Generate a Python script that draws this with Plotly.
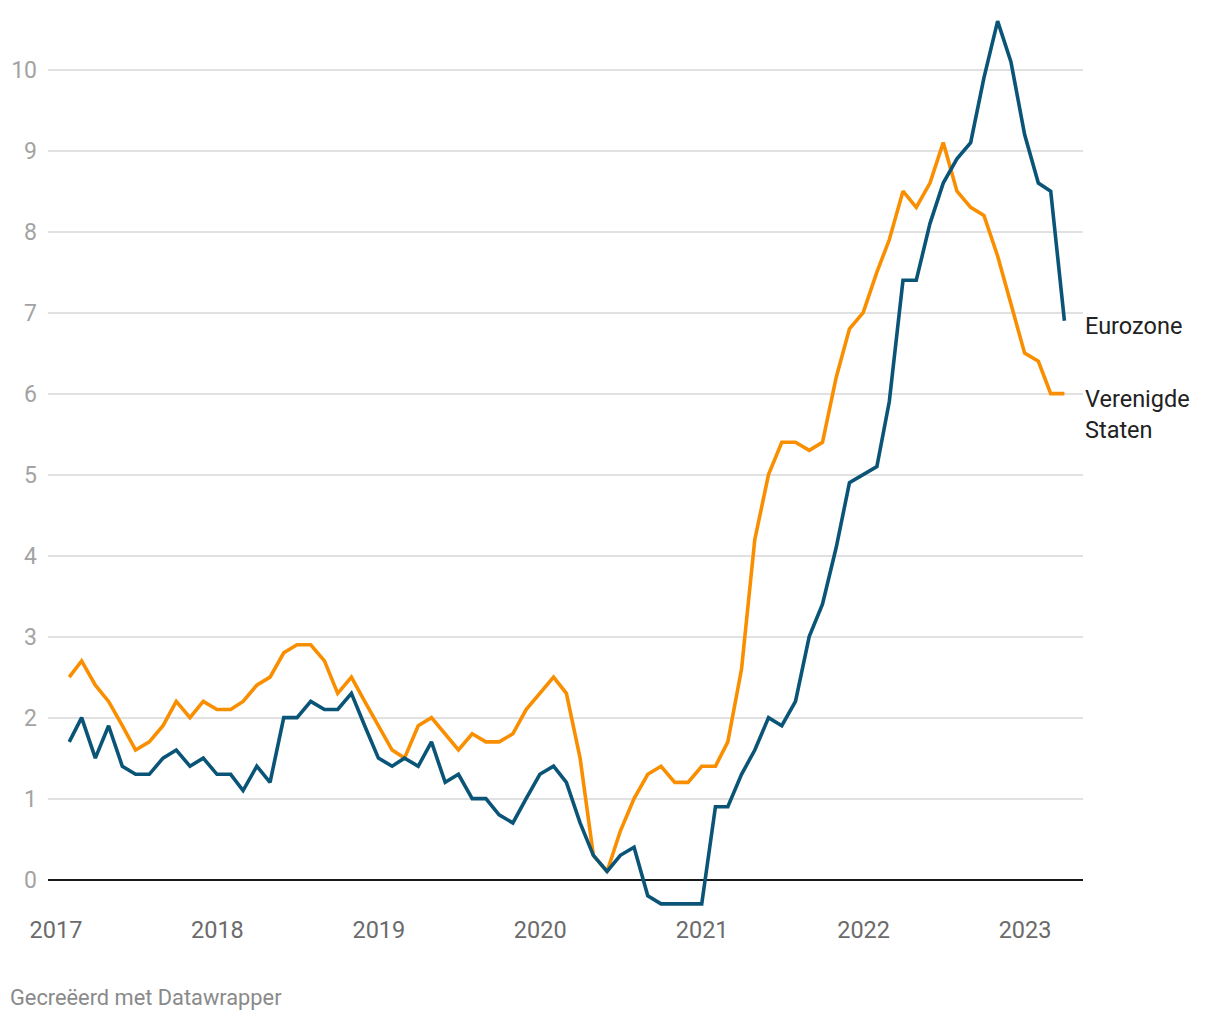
import plotly.graph_objects as go
import pandas as pd

# Monthly inflation (%), Jan 2017 - Mar 2023
start_month = "2017-01-01"
n_months = 75

eurozone = [
    1.7, 2.0, 1.5, 1.9, 1.4, 1.3, 1.3, 1.5, 1.6, 1.4, 1.5, 1.3,   # 2017
    1.3, 1.1, 1.4, 1.2, 2.0, 2.0, 2.2, 2.1, 2.1, 2.3, 1.9, 1.5,   # 2018
    1.4, 1.5, 1.4, 1.7, 1.2, 1.3, 1.0, 1.0, 0.8, 0.7, 1.0, 1.3,   # 2019
    1.4, 1.2, 0.7, 0.3, 0.1, 0.3, 0.4, -0.2, -0.3, -0.3, -0.3, -0.3,  # 2020
    0.9, 0.9, 1.3, 1.6, 2.0, 1.9, 2.2, 3.0, 3.4, 4.1, 4.9, 5.0,   # 2021
    5.1, 5.9, 7.4, 7.4, 8.1, 8.6, 8.9, 9.1, 9.9, 10.6, 10.1, 9.2,  # 2022
    8.6, 8.5, 6.9,                                                # 2023
]

verenigde_staten = [
    2.5, 2.7, 2.4, 2.2, 1.9, 1.6, 1.7, 1.9, 2.2, 2.0, 2.2, 2.1,   # 2017
    2.1, 2.2, 2.4, 2.5, 2.8, 2.9, 2.9, 2.7, 2.3, 2.5, 2.2, 1.9,   # 2018
    1.6, 1.5, 1.9, 2.0, 1.8, 1.6, 1.8, 1.7, 1.7, 1.8, 2.1, 2.3,   # 2019
    2.5, 2.3, 1.5, 0.3, 0.1, 0.6, 1.0, 1.3, 1.4, 1.2, 1.2, 1.4,   # 2020
    1.4, 1.7, 2.6, 4.2, 5.0, 5.4, 5.4, 5.3, 5.4, 6.2, 6.8, 7.0,   # 2021
    7.5, 7.9, 8.5, 8.3, 8.6, 9.1, 8.5, 8.3, 8.2, 7.7, 7.1, 6.5,   # 2022
    6.4, 6.0, 6.0,                                                # 2023
]

series_labels = ["Eurozone", "Verenigde<br>Staten"]
y_ticks = [0, 1, 2, 3, 4, 5, 6, 7, 8, 9, 10]
footer_text = "Gecreëerd met Datawrapper"

dates = pd.date_range(start=start_month, periods=n_months, freq="MS") + pd.offsets.MonthEnd(0)

BLUE = "#0a5577"
ORANGE = "#f98f00"
FONT = "Roboto"

# page has an 8px body margin; plot area placed accordingly
W, H = 1220, 1020
PL, PR, PT, PB = 40, 1075, 5, 904

fig = go.Figure()
fig.add_trace(go.Scatter(x=dates, y=verenigde_staten, mode="lines",
                         line=dict(color=ORANGE, width=3.6), name="Verenigde Staten",
                         showlegend=False))
fig.add_trace(go.Scatter(x=dates, y=eurozone, mode="lines",
                         line=dict(color=BLUE, width=3.6), name="Eurozone",
                         showlegend=False))

fig.add_annotation(x=1, xref="paper", xanchor="left", xshift=0,
                   y=eurozone[-1], yref="y", yanchor="middle", yshift=-5,
                   text=series_labels[0], showarrow=False, align="left",
                   font=dict(family=FONT, size=23.5, color="#222222"))
fig.add_annotation(x=1, xref="paper", xanchor="left", xshift=0,
                   y=verenigde_staten[-1], yref="y", yanchor="top", yshift=11,
                   text="<span style='line-height:1.2'>" + series_labels[1] + "</span>",
                   showarrow=False, align="left",
                   font=dict(family=FONT, size=23.5, color="#222222"))

fig.add_annotation(x=(0 - PL) / (PR - PL), xref="paper", xanchor="left",
                   y=(PB - 989) / (PB - PT), yref="paper", yanchor="middle",
                   showarrow=False, text=footer_text,
                   font=dict(family=FONT, size=21.8, color="#8a8a8a"))

fig.update_layout(
    width=W, height=H,
    margin=dict(l=PL, r=W - PR, t=PT, b=H - PB, autoexpand=False),
    paper_bgcolor="white", plot_bgcolor="white",
    font=dict(family=FONT),
    xaxis=dict(
        type="date",
        range=["2016-12-14", "2023-05-12"],
        tickmode="linear", tick0="2017-01-01", dtick="M12",
        tickformat="%Y",
        showgrid=False, zeroline=False, showline=False,
        ticks="", ticklabelstandoff=1,
        tickfont=dict(family=FONT, size=23.5, color="#6b6b6b"),
    ),
    yaxis=dict(
        range=[-0.4, 10.7],
        tickmode="array", tickvals=y_ticks,
        showgrid=True, gridcolor="#e1e1e1", gridwidth=1.6,
        zeroline=True, zerolinecolor="#1a1a1a", zerolinewidth=2,
        showline=False, ticks="", ticklabelstandoff=10,
        tickfont=dict(family=FONT, size=23, color="#a3a3a3"),
    ),
)

fig.write_html("out.html")
